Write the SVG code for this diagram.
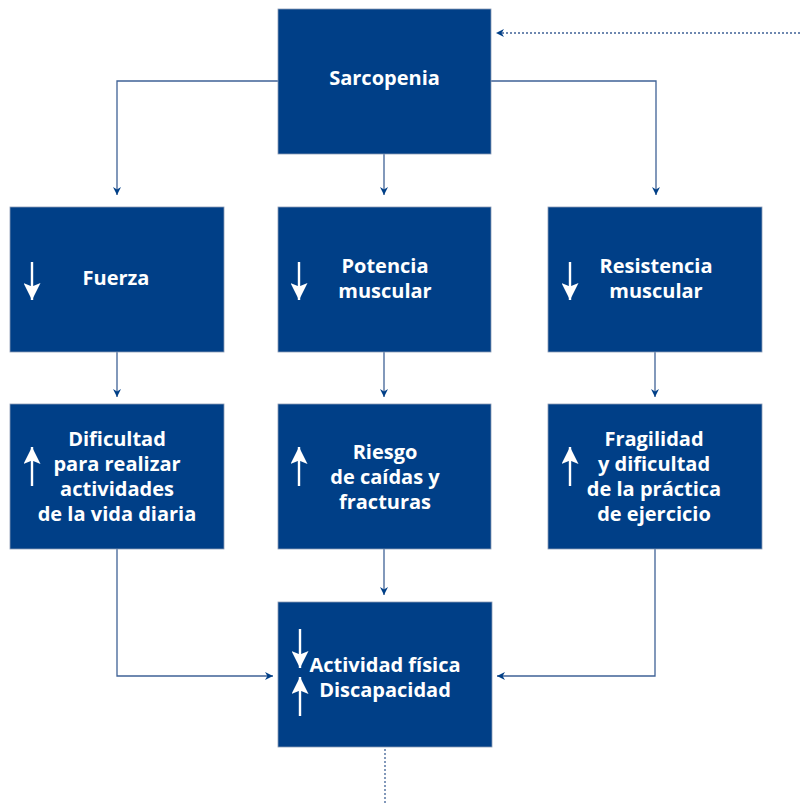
<svg xmlns="http://www.w3.org/2000/svg" width="800" height="803" viewBox="0 0 800 803">
<defs>
<style>
.box{fill:#003f87;stroke:#8a9bb5;stroke-width:0.8}
.t{font-family:"Open Sans","Noto Sans",sans-serif;font-weight:700;font-size:20px;fill:#ffffff;text-anchor:middle}
.c{fill:none;stroke:#3f6296;stroke-width:1.3}
.d{fill:none;stroke:#3f6296;stroke-width:1.3;stroke-dasharray:2,2}
.w{stroke:#ffffff;stroke-width:2.4;fill:none}
</style>
<marker id="ah" viewBox="0 0 10 10" refX="10" refY="5" markerWidth="8" markerHeight="8" markerUnits="userSpaceOnUse" orient="auto">
<path d="M0,0 L10,5 L0,10 L3,5 z" fill="#003f87"/>
</marker>
<marker id="wh" viewBox="0 0 10 10" refX="10" refY="5" markerWidth="17" markerHeight="17" markerUnits="userSpaceOnUse" orient="auto">
<path d="M0,0 L10,5 L0,10 L2,5 z" fill="#ffffff"/>
</marker>
</defs>
<g id="connectors">
<path class="c" d="M278,81 H117 V195" marker-end="url(#ah)"/>
<path class="c" d="M384,154 V195" marker-end="url(#ah)"/>
<path class="c" d="M491,81 H656 V195" marker-end="url(#ah)"/>
<path class="c" d="M117,352 V397" marker-end="url(#ah)"/>
<path class="c" d="M384,352 V397" marker-end="url(#ah)"/>
<path class="c" d="M655,352 V397" marker-end="url(#ah)"/>
<path class="c" d="M384,549 V595" marker-end="url(#ah)"/>
<path class="c" d="M117,549 V676 H273" marker-end="url(#ah)"/>
<path class="c" d="M655,549 V676 H497" marker-end="url(#ah)"/>
<path class="d" d="M800,33 H496" marker-end="url(#ah)"/>
<path class="d" d="M385,749 V803"/>
</g>
<g id="sarcopenia">
<rect class="box" x="278" y="9" width="213" height="145"/>
<text class="t" x="384.5" y="85">Sarcopenia</text>
</g>
<g id="fuerza">
<rect class="box" x="10" y="207" width="214" height="145"/>
<line class="w" x1="32" y1="262" x2="32" y2="300" marker-end="url(#wh)"/>
<text class="t" x="116" y="285">Fuerza</text>
</g>
<g id="potencia">
<rect class="box" x="278" y="207" width="213" height="145"/>
<line class="w" x1="299" y1="262" x2="299" y2="300" marker-end="url(#wh)"/>
<text class="t" x="385" y="273">Potencia</text>
<text class="t" x="385" y="298">muscular</text>
</g>
<g id="resistencia">
<rect class="box" x="548" y="207" width="214" height="145"/>
<line class="w" x1="570" y1="262" x2="570" y2="300" marker-end="url(#wh)"/>
<text class="t" x="656" y="273">Resistencia</text>
<text class="t" x="656" y="298">muscular</text>
</g>
<g id="dificultad">
<rect class="box" x="10" y="404" width="214" height="145"/>
<line class="w" x1="32" y1="486" x2="32" y2="447" marker-end="url(#wh)"/>
<text class="t" x="117" y="446">Dificultad</text>
<text class="t" x="117" y="471">para realizar</text>
<text class="t" x="117" y="496">actividades</text>
<text class="t" x="117" y="521">de la vida diaria</text>
</g>
<g id="riesgo">
<rect class="box" x="278" y="404" width="213" height="145"/>
<line class="w" x1="299" y1="486" x2="299" y2="447" marker-end="url(#wh)"/>
<text class="t" x="385" y="459">Riesgo</text>
<text class="t" x="385" y="484">de caídas y</text>
<text class="t" x="385" y="509">fracturas</text>
</g>
<g id="fragilidad">
<rect class="box" x="548" y="404" width="214" height="145"/>
<line class="w" x1="570" y1="486" x2="570" y2="447" marker-end="url(#wh)"/>
<text class="t" x="654" y="446">Fragilidad</text>
<text class="t" x="654" y="471">y dificultad</text>
<text class="t" x="654" y="496">de la práctica</text>
<text class="t" x="654" y="521">de ejercicio</text>
</g>
<g id="actividad">
<rect class="box" x="278" y="602" width="214" height="145"/>
<line class="w" x1="300" y1="629" x2="300" y2="668" marker-end="url(#wh)"/>
<line class="w" x1="300" y1="716" x2="300" y2="677" marker-end="url(#wh)"/>
<text class="t" x="385" y="672">Actividad física</text>
<text class="t" x="385" y="697">Discapacidad</text>
</g>
</svg>
